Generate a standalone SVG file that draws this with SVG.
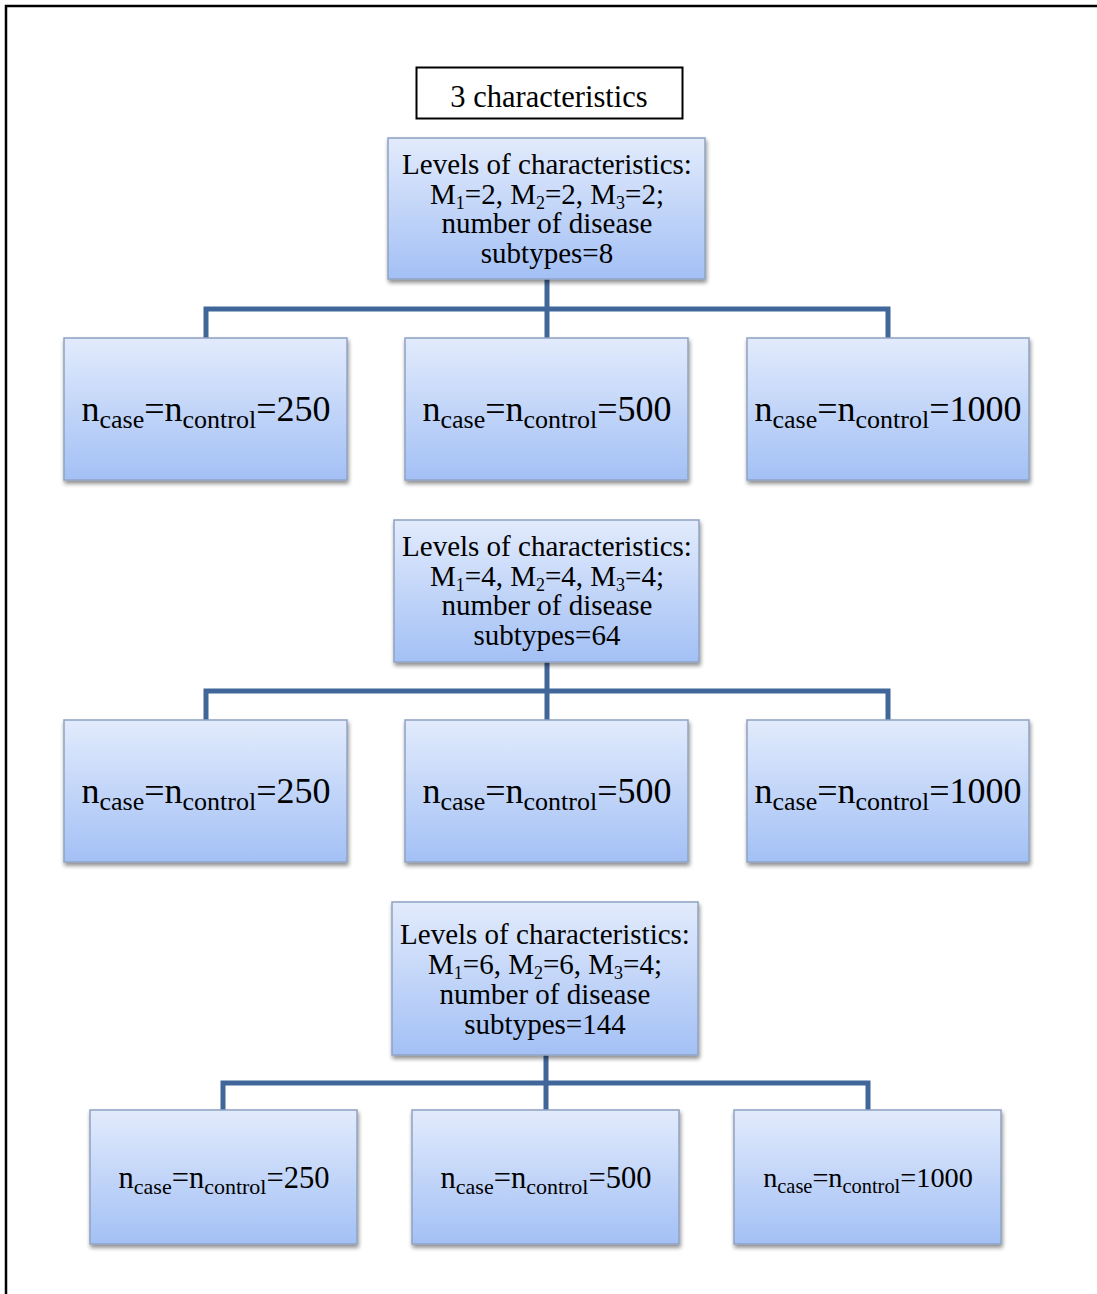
<svg xmlns="http://www.w3.org/2000/svg" width="1097" height="1294" viewBox="0 0 1097 1294">
<defs>
<linearGradient id="g" x1="0" y1="0" x2="0" y2="1">
<stop offset="0" stop-color="#e2ebfc"/>
<stop offset="1" stop-color="#a3c0f5"/>
</linearGradient>
<filter id="sh" x="-10%" y="-10%" width="125%" height="130%">
<feGaussianBlur in="SourceAlpha" stdDeviation="2"/>
<feOffset dx="1" dy="3" result="b"/>
<feComponentTransfer><feFuncA type="linear" slope="0.45"/></feComponentTransfer>
<feMerge><feMergeNode/><feMergeNode in="SourceGraphic"/></feMerge>
</filter>
</defs>
<style>
.bx{fill:url(#g);stroke:#8fa3c2;stroke-width:1.5;filter:url(#sh)}
text{font-family:"Liberation Serif","Times New Roman",serif;fill:#000;text-anchor:middle}
.lv{font-size:29px}
.sb{font-size:18px}
.r1{font-size:36px}
.r1 .s{font-size:26px}
.r3{font-size:30.5px}
.r3 .s{font-size:22px}
.r3k{font-size:28.3px}
.r3k .s{font-size:20.4px}
.cn{fill:none;stroke:#41679a;stroke-width:5}
</style>
<path d="M6,1294 V6 H1097" fill="none" stroke="#000" stroke-width="2.5"/>
<g id="title">
<rect x="416.5" y="67.5" width="266" height="51" fill="#fff" stroke="#000" stroke-width="2"/>
<text x="549" y="107" style="font-size:30.5px">3 characteristics</text>
</g>
<g id="connectors">
<path class="cn" d="M547,279 V309 M206,338 V309 H888 V338 M547,309 V338"/>
<path class="cn" d="M547,662 V691 M206,720 V691 H888 V720 M547,691 V720"/>
<path class="cn" d="M546,1055 V1083 M223,1110 V1083 H868 V1110 M546,1083 V1110"/>
</g>
<g id="levels1">
<rect class="bx" x="388" y="138" width="317" height="141"/>
<text class="lv" x="547" y="174">Levels of characteristics:</text>
<text class="lv" x="547" y="204">M<tspan class="sb" dy="5">1</tspan><tspan dy="-5">=2, M</tspan><tspan class="sb" dy="5">2</tspan><tspan dy="-5">=2, M</tspan><tspan class="sb" dy="5">3</tspan><tspan dy="-5">=2;</tspan></text>
<text class="lv" x="547" y="233">number of disease</text>
<text class="lv" x="547" y="263">subtypes=8</text>
</g>
<g id="r1a"><rect class="bx" x="64" y="338" width="283" height="142"/>
<text class="r1" x="206" y="421">n<tspan class="s" dy="7">case</tspan><tspan dy="-7">=n</tspan><tspan class="s" dy="7">control</tspan><tspan dy="-7">=250</tspan></text></g>
<g id="r1b"><rect class="bx" x="405" y="338" width="283" height="142"/>
<text class="r1" x="547" y="421">n<tspan class="s" dy="7">case</tspan><tspan dy="-7">=n</tspan><tspan class="s" dy="7">control</tspan><tspan dy="-7">=500</tspan></text></g>
<g id="r1c"><rect class="bx" x="747" y="338" width="282" height="142"/>
<text class="r1" x="888" y="421">n<tspan class="s" dy="7">case</tspan><tspan dy="-7">=n</tspan><tspan class="s" dy="7">control</tspan><tspan dy="-7">=1000</tspan></text></g>
<g id="levels2">
<rect class="bx" x="394" y="520" width="305" height="142"/>
<text class="lv" x="547" y="556">Levels of characteristics:</text>
<text class="lv" x="547" y="586">M<tspan class="sb" dy="5">1</tspan><tspan dy="-5">=4, M</tspan><tspan class="sb" dy="5">2</tspan><tspan dy="-5">=4, M</tspan><tspan class="sb" dy="5">3</tspan><tspan dy="-5">=4;</tspan></text>
<text class="lv" x="547" y="615">number of disease</text>
<text class="lv" x="547" y="645">subtypes=64</text>
</g>
<g id="r2a"><rect class="bx" x="64" y="720" width="283" height="142"/>
<text class="r1" x="206" y="803">n<tspan class="s" dy="7">case</tspan><tspan dy="-7">=n</tspan><tspan class="s" dy="7">control</tspan><tspan dy="-7">=250</tspan></text></g>
<g id="r2b"><rect class="bx" x="405" y="720" width="283" height="142"/>
<text class="r1" x="547" y="803">n<tspan class="s" dy="7">case</tspan><tspan dy="-7">=n</tspan><tspan class="s" dy="7">control</tspan><tspan dy="-7">=500</tspan></text></g>
<g id="r2c"><rect class="bx" x="747" y="720" width="282" height="142"/>
<text class="r1" x="888" y="803">n<tspan class="s" dy="7">case</tspan><tspan dy="-7">=n</tspan><tspan class="s" dy="7">control</tspan><tspan dy="-7">=1000</tspan></text></g>
<g id="levels3">
<rect class="bx" x="392" y="902" width="306" height="153"/>
<text class="lv" x="545" y="944">Levels of characteristics:</text>
<text class="lv" x="545" y="974">M<tspan class="sb" dy="5">1</tspan><tspan dy="-5">=6, M</tspan><tspan class="sb" dy="5">2</tspan><tspan dy="-5">=6, M</tspan><tspan class="sb" dy="5">3</tspan><tspan dy="-5">=4;</tspan></text>
<text class="lv" x="545" y="1004">number of disease</text>
<text class="lv" x="545" y="1034">subtypes=144</text>
</g>
<g id="r3a"><rect class="bx" x="90" y="1110" width="267" height="134"/>
<text class="r3" x="224" y="1188">n<tspan class="s" dy="6">case</tspan><tspan dy="-6">=n</tspan><tspan class="s" dy="6">control</tspan><tspan dy="-6">=250</tspan></text></g>
<g id="r3b"><rect class="bx" x="412" y="1110" width="267" height="134"/>
<text class="r3" x="546" y="1188">n<tspan class="s" dy="6">case</tspan><tspan dy="-6">=n</tspan><tspan class="s" dy="6">control</tspan><tspan dy="-6">=500</tspan></text></g>
<g id="r3c"><rect class="bx" x="734" y="1110" width="267" height="134"/>
<text class="r3k" x="868" y="1187">n<tspan class="s" dy="6">case</tspan><tspan dy="-6">=n</tspan><tspan class="s" dy="6">control</tspan><tspan dy="-6">=1000</tspan></text></g>
</svg>
